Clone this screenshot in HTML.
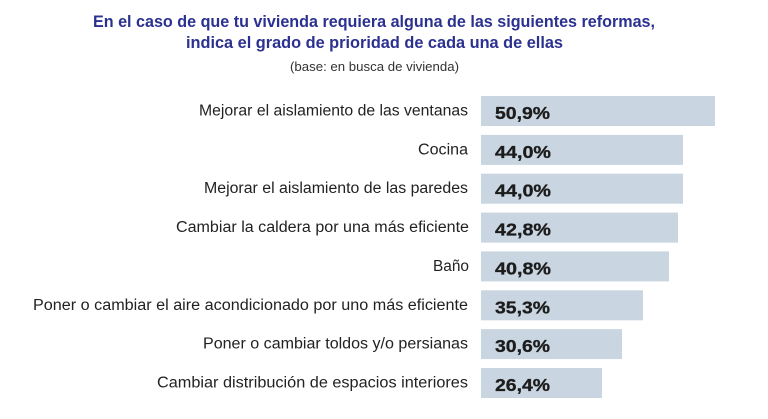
<!DOCTYPE html>
<html>
<head>
<meta charset="utf-8">
<style>
  html, body { margin:0; padding:0; background:#ffffff; }
  svg { display:block; }
  .t { font-family:"Liberation Sans", sans-serif; font-weight:bold; font-size:17px; fill:#2b3190; }
  .s { font-family:"Liberation Sans", sans-serif; font-size:12.5px; fill:#333333; }
  .l { font-family:"Liberation Sans", sans-serif; font-size:15.5px; fill:#222222; }
  .v { font-family:"Liberation Sans", sans-serif; font-weight:bold; font-size:17.5px; fill:#1c1c1c; stroke:#1c1c1c; stroke-width:0.3px; }
  .b { fill:#c9d5e0; }
</style>
</head>
<body>
<svg width="768" height="419" viewBox="0 0 768 419" xmlns="http://www.w3.org/2000/svg">
  <text class="t" x="93" y="27" textLength="562" lengthAdjust="spacingAndGlyphs">En el caso de que tu vivienda requiera alguna de las siguientes reformas,</text>
  <text class="t" x="186" y="48" textLength="377" lengthAdjust="spacingAndGlyphs">indica el grado de prioridad de cada una de ellas</text>
  <text class="s" x="290" y="71" textLength="169" lengthAdjust="spacingAndGlyphs">(base: en busca de vivienda)</text>

  <!-- bars -->
  <rect class="b" x="481" y="96" width="234" height="30"/>
  <rect class="b" x="481" y="134.9" width="202" height="30"/>
  <rect class="b" x="481" y="173.7" width="202" height="30"/>
  <rect class="b" x="481" y="212.6" width="197" height="30"/>
  <rect class="b" x="481" y="251.4" width="188" height="30"/>
  <rect class="b" x="481" y="290.3" width="162" height="30"/>
  <rect class="b" x="481" y="329.1" width="141" height="30"/>
  <rect class="b" x="481" y="368" width="121" height="30"/>

  <!-- labels -->
  <text class="l" x="199" y="115.5" textLength="269" lengthAdjust="spacingAndGlyphs">Mejorar el aislamiento de las ventanas</text>
  <text class="l" x="418" y="154.4" textLength="50" lengthAdjust="spacingAndGlyphs">Cocina</text>
  <text class="l" x="204" y="193.2" textLength="264" lengthAdjust="spacingAndGlyphs">Mejorar el aislamiento de las paredes</text>
  <text class="l" x="176" y="232.1" textLength="293" lengthAdjust="spacingAndGlyphs">Cambiar la caldera por una más eficiente</text>
  <text class="l" x="433" y="270.9" textLength="36" lengthAdjust="spacingAndGlyphs">Baño</text>
  <text class="l" x="33" y="309.8" textLength="435" lengthAdjust="spacingAndGlyphs">Poner o cambiar el aire acondicionado por uno más eficiente</text>
  <text class="l" x="203" y="348.6" textLength="265" lengthAdjust="spacingAndGlyphs">Poner o cambiar toldos y/o persianas</text>
  <text class="l" x="157" y="387.5" textLength="311" lengthAdjust="spacingAndGlyphs">Cambiar distribución de espacios interiores</text>

  <!-- values -->
  <text class="v" x="495" y="119" textLength="55" lengthAdjust="spacingAndGlyphs">50,9%</text>
  <text class="v" x="495" y="157.9" textLength="56" lengthAdjust="spacingAndGlyphs">44,0%</text>
  <text class="v" x="495" y="196.7" textLength="56" lengthAdjust="spacingAndGlyphs">44,0%</text>
  <text class="v" x="495" y="235.6" textLength="56" lengthAdjust="spacingAndGlyphs">42,8%</text>
  <text class="v" x="495" y="274.4" textLength="56" lengthAdjust="spacingAndGlyphs">40,8%</text>
  <text class="v" x="495" y="313.3" textLength="55" lengthAdjust="spacingAndGlyphs">35,3%</text>
  <text class="v" x="495" y="352.1" textLength="55" lengthAdjust="spacingAndGlyphs">30,6%</text>
  <text class="v" x="495" y="391" textLength="55" lengthAdjust="spacingAndGlyphs">26,4%</text>
</svg>
</body>
</html>
